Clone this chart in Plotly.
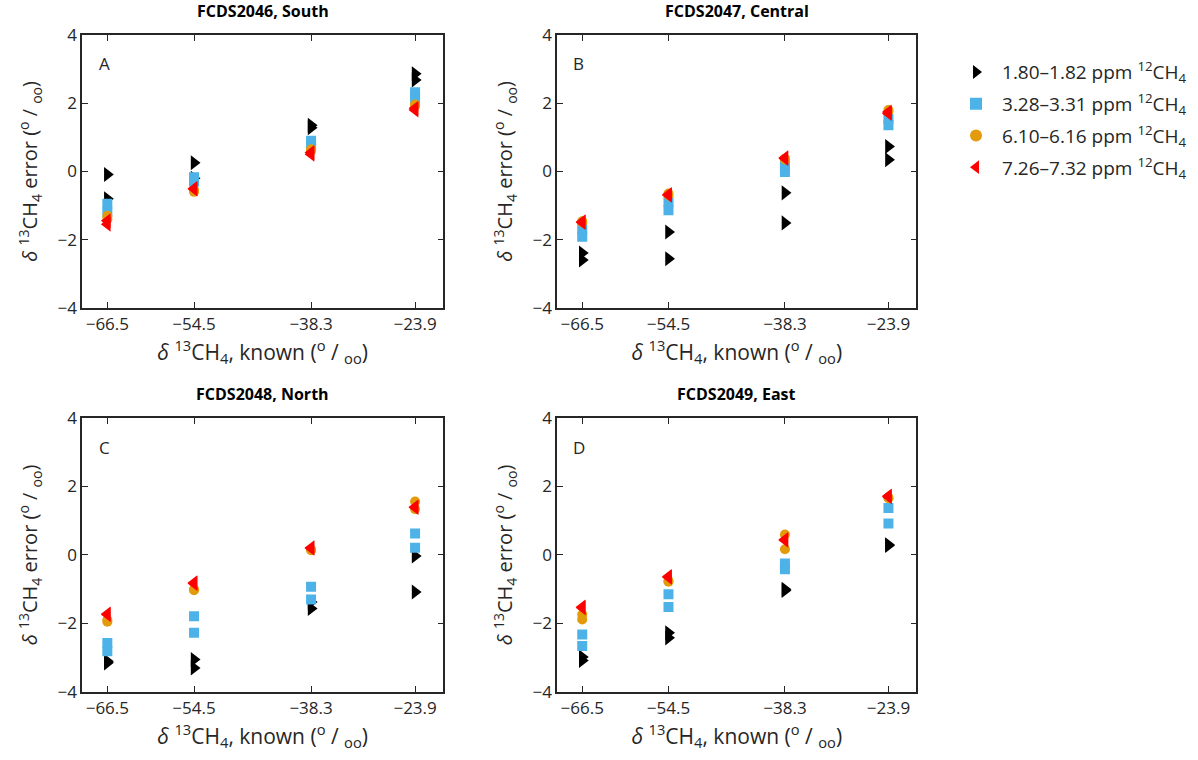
import plotly.graph_objects as go

X_KNOWN = [-66.5, -54.5, -38.3, -23.9]
X_TICKTEXT = ["\u221266.5", "\u221254.5", "\u221238.3", "\u221223.9"]
Y_TICKS = [-4, -2, 0, 2, 4]
Y_TICKTEXT = ["\u22124", "\u22122", "0", "2", "4"]

SERIES_NAMES = ["1.80\u20131.82 ppm <sup>12</sup>CH<sub>4</sub>",
                "3.28\u20133.31 ppm <sup>12</sup>CH<sub>4</sub>",
                "6.10\u20136.16 ppm <sup>12</sup>CH<sub>4</sub>",
                "7.26\u20137.32 ppm <sup>12</sup>CH<sub>4</sub>"]
PANEL_TITLES = ["FCDS2046, South", "FCDS2047, Central", "FCDS2048, North", "FCDS2049, East"]
PANEL_LETTERS = ["A", "B", "C", "D"]

# errors per panel, per series, per known value (two replicate measurements)
A_black = [[-0.09, -0.80], [0.25, -0.20], [1.35, 1.28], [2.86, 2.68]]
A_blue = [[-0.95, -1.20], [-0.17, -0.30], [0.90, 0.76], [2.32, 2.13]]
A_orange = [[-1.30, -1.40], [-0.55, -0.60], [0.65, 0.60], [1.96, 1.92]]
A_red = [[-1.45, -1.55], [-0.50, -0.52], [0.55, 0.50], [1.85, 1.80]]

B_black = [[-2.39, -2.60], [-1.78, -2.56], [-0.63, -1.51], [0.73, 0.34]]
B_blue = [[-1.68, -1.92], [-0.90, -1.14], [0.18, -0.02], [1.54, 1.35]]
B_orange = [[-1.46, -1.50], [-0.65, -0.70], [0.37, 0.35], [1.80, 1.76]]
B_red = [[-1.48, -1.50], [-0.68, -0.70], [0.40, 0.38], [1.74, 1.70]]

C_black = [[-3.10, -3.15], [-3.05, -3.30], [-1.37, -1.56], [-0.03, -1.08]]
C_blue = [[-2.57, -2.81], [-1.79, -2.27], [-0.93, -1.30], [0.63, 0.21]]
C_orange = [[-1.95, -1.90], [-1.03, -1.00], [0.14, 0.16], [1.56, 1.34]]
C_red = [[-1.74, -1.72], [-0.83, -0.81], [0.21, 0.20], [1.39, 1.40]]

D_black = [[-2.98, -3.08], [-2.27, -2.42], [-1.00, -1.04], [0.28, 0.30]]
D_blue = [[-2.32, -2.66], [-1.15, -1.52], [-0.25, -0.42], [1.37, 0.92]]
D_orange = [[-1.74, -1.88], [-0.78, -0.75], [0.60, 0.17], [1.66, 1.68]]
D_red = [[-1.54, -1.52], [-0.63, -0.65], [0.43, 0.45], [1.70, 1.72]]

PANELS = [[A_black, A_blue, A_orange, A_red],
          [B_black, B_blue, B_orange, B_red],
          [C_black, C_blue, C_orange, C_red],
          [D_black, D_blue, D_orange, D_red]]

COLORS = ["#000000", "#4DB2E8", "#E39A0B", "#FF0000"]
SYMBOLS = ["triangle-right", "square", "circle", "triangle-left"]
SIZES = [13, 10, 10, 13]

FONT = "Open Sans"
AX_COLOR = "#262626"

# axis domains in paper coordinates
XDOM = [[0.0685, 0.370], [0.465, 0.765]]
YDOM = [[0.595, 0.954], [0.0895, 0.450]]

fig = go.Figure()

for p, series in enumerate(PANELS):
    ax = "" if p == 0 else str(p + 1)
    for s, vals in enumerate(series):
        xs, ys = [], []
        for xi, pair in zip(X_KNOWN, vals):
            for v in pair:
                xs.append(xi)
                ys.append(v)
        fig.add_trace(go.Scatter(
            x=xs, y=ys, mode="markers",
            marker=dict(symbol=SYMBOLS[s], color=COLORS[s], size=SIZES[s], line=dict(width=0)),
            name=SERIES_NAMES[s], legendgroup=f"g{s}", showlegend=(p == 0),
            xaxis="x" + ax, yaxis="y" + ax,
        ))

xtitle = "<i>\u03b4</i> <sup>13</sup>CH<sub>4</sub>, known (<sup>o</sup> / <sub>oo</sub>)"
ytitle = "<i>\u03b4</i> <sup>13</sup>CH<sub>4</sub> error (<sup>o</sup> / <sub>oo</sub>)"

layout = dict(
    width=1198, height=760,
    margin=dict(l=0, r=0, t=0, b=0, autoexpand=False),
    paper_bgcolor="white", plot_bgcolor="white",
    font=dict(family=FONT, size=16, color=AX_COLOR),
    legend=dict(x=0.793, y=0.93, xanchor="left", yanchor="top",
                font=dict(family=FONT, size=19, color=AX_COLOR),
                tracegroupgap=4, bgcolor="rgba(0,0,0,0)", itemsizing="constant",
                itemwidth=42),
    annotations=[],
)

for p in range(4):
    r, c = divmod(p, 2)
    ax = "" if p == 0 else str(p + 1)
    layout["xaxis" + ax] = dict(
        domain=XDOM[c], anchor="y" + ax, range=[-70, -20], automargin=False,
        tickvals=X_KNOWN, ticktext=X_TICKTEXT,
        ticks="inside", ticklen=6, tickwidth=1.2, tickcolor=AX_COLOR,
        showline=True, linecolor=AX_COLOR, linewidth=1.5, mirror="ticks",
        showgrid=False, zeroline=False,
        tickfont=dict(family=FONT, size=17, color=AX_COLOR),
        title=dict(text=xtitle, font=dict(family=FONT, size=21, color=AX_COLOR), standoff=6),
    )
    layout["yaxis" + ax] = dict(
        domain=YDOM[r], anchor="x" + ax, range=[-4, 4], automargin=False,
        tickvals=Y_TICKS, ticktext=Y_TICKTEXT,
        ticks="inside", ticklen=6, tickwidth=1.2, tickcolor=AX_COLOR,
        showline=True, linecolor=AX_COLOR, linewidth=1.5, mirror="ticks",
        showgrid=False, zeroline=False,
        tickfont=dict(family=FONT, size=17, color=AX_COLOR),
        title=dict(text=ytitle, font=dict(family=FONT, size=20, color=AX_COLOR), standoff=14),
    )
    xmid = (XDOM[c][0] + XDOM[c][1]) / 2
    layout["annotations"].append(dict(
        text="<b>" + PANEL_TITLES[p] + "</b>", x=xmid, y=YDOM[r][1], xref="paper", yref="paper",
        xanchor="center", yanchor="bottom", yshift=11, showarrow=False,
        font=dict(family=FONT, size=16, color="#000000")))
    layout["annotations"].append(dict(
        text=PANEL_LETTERS[p], x=-68.0, y=3.15, xref="x" + ax, yref="y" + ax,
        xanchor="left", yanchor="middle", showarrow=False,
        font=dict(family=FONT, size=17, color=AX_COLOR)))

fig.update_layout(**layout)
fig.write_html("out.html", config={"displayModeBar": False},
               post_script="document.body.style.margin='0px';")
